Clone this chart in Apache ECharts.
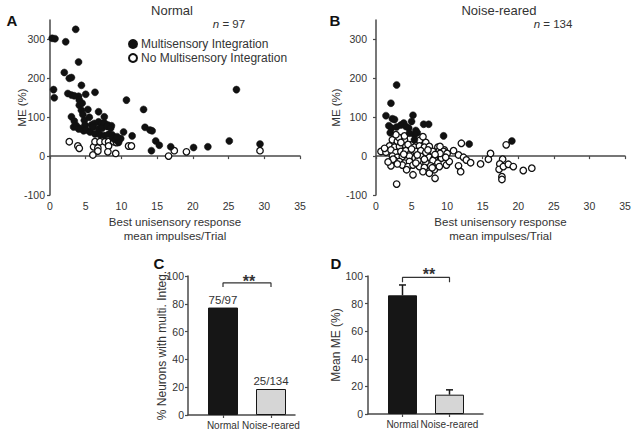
<!DOCTYPE html>
<html><head><meta charset="utf-8">
<script src="https://cdn.jsdelivr.net/npm/echarts@6/dist/echarts.min.js"></script>
<style>html,body{margin:0;padding:0;background:#fff}#c{width:635px;height:435px}</style>
</head><body><div id="c"></div>
<script>
// ---- Data ----
const normalIntegrated = [[0.3,303],[0.7,302],[2.2,294],[3.6,326],[4.0,242],[2.0,215],[2.7,200],[3.0,202],[4.4,182],[0.5,171],
[0.6,150],[6.3,164],[2.5,161],[3.0,157],[4.0,154],[5.0,159],[3.4,155],[10.7,144],[4.1,131],[4.4,118],
[4.6,107],[4.8,92],[4.9,80],[3.0,101],[3.4,90],[3.3,75],[3.7,78],[4.0,70],[4.3,71],[4.7,65],
[5.1,67],[5.6,62],[6.8,114],[7.6,101],[5.8,80],[6.2,84],[6.8,88],[7.2,84],[7.6,86],[8.1,80],
[8.6,78],[6.0,74],[6.8,70],[7.3,72],[8.0,76],[8.5,72],[6.3,57],[7.0,55],[7.6,53],[8.2,56],
[8.7,55],[8.8,46],[9.2,42],[9.9,45],[10.3,62],[11.5,52],[9.6,35],[13.1,120],[26.1,171],[13.3,74],
[14.0,67],[14.3,65],[14.8,39],[15.3,28],[14.2,14],[16.9,24],[20.1,22],[22.1,24],[25.1,39],[29.4,31],
[4.1,144],[4.5,136],[9.4,50],[5.3,120],[5.5,100]];
const normalNotIntegrated = [[2.7,37],[3.9,26],[4.1,20],[6.1,24],[6.7,21],[6.0,3],[6.3,37],[7.0,37],[7.7,37],[8.2,37],
[8.9,37],[9.3,35],[8.2,26],[8.1,11],[9.2,7],[6.7,13],[11.0,26],[11.4,26],[16.6,0],[17.4,14],[19.1,11],[29.4,14]];
const noiseIntegrated = [[2.9,183],[2.1,136],[1.4,104],[2.3,96],[2.6,94],[1.8,78],[2.2,72],[2.0,60],[2.9,75],[3.5,80],
[3.9,85],[4.2,76],[4.6,72],[5.2,105],[5.0,89],[5.6,66],[5.8,60],[5.4,55],[4.7,59],[6.7,82],
[7.4,82],[9.5,52],[13.1,31],[19.1,39],[5.4,42]];
const noiseNotIntegrated = [[2.3,42],[3.0,38],[4.0,42],[5.6,38],[6.1,40],[7.0,35],
[1.9,26],[2.6,23],[3.3,25],[4.2,26],[4.9,29],[5.4,23],[6.1,26],[6.8,23],[7.5,25],[8.7,23],
[0.7,12],[1.4,10],[2.1,16],[2.8,9],[3.5,12],[4.2,14],[4.9,8],[5.6,12],[6.3,14],[7.0,9],[8.0,12],[8.9,14],[9.6,16],
[2.3,0],[3.0,-3],[3.7,-1],[4.7,0],[5.5,-5],[6.3,-1],[7.5,-3],[8.2,-5],[9.1,0],
[2.6,-11],[3.3,-14],[4.0,-18],[4.7,-14],[5.9,-11],[7.0,-16],[8.0,-11],[8.7,-18],
[2.1,-25],[3.7,-23],[4.5,-27],[5.2,-23],[6.1,-27],[6.8,-29],[7.7,-25],[8.2,-35],[8.9,-27],
[5.2,-48],[6.6,-40],[7.5,-44],[8.3,-57],[2.9,-72],
[9.0,25],[9.5,12],[10.0,7],[10.9,14],[11.6,3],[12.3,-3],[12.7,-10],[13.3,-17],[12.0,33],[9.2,-5],
[9.9,-23],[10.3,-14],[11.6,-25],[11.9,-40],[9.0,7],[14.7,-20],[15.8,-8],[16.1,7],[17.8,-8],[17.4,-20],
[17.3,-34],[17.9,-27],[18.6,-21],[19.3,-27],[17.7,-53],[17.7,-60],[18.3,29],[20.7,-37],[21.9,-31],
[3.2,48],[4.0,52],[2.8,55],[3.5,35],[1.2,20],[4.5,30],[5.0,18],[6.6,50],[7.3,16],[8.3,4],
[9.8,-3],[2.4,-8],[3.9,5],[5.8,3],[6.8,-8],[4.3,-35],[5.6,-18],[7.9,-30],[1.7,-15],[3.0,-20]];
const barCategories = ['Normal','Noise-reared'];
const pctIntegrated = [77.3, 18.7];
const pctLabels = ['75/97','25/134'];
const meanME = [86, 14];
const meanMEErr = [7.5, 3.5];
const bracketC = [92, 95];   // tick bottom, bracket top (% axis)
const bracketD = [95.5, 99]; // tick bottom, bracket top (Mean ME axis)
const seriesNames = ['Multisensory Integration','No Multisensory Integration'];

// ---- Styles ----
const FONT = 'Liberation Sans, Arial, Helvetica, sans-serif';
const TXT = '#333';
const AX = '#4a4a4a';
const axisLine = {show:true, lineStyle:{color:AX, width:1.5}};
const tick = {show:true, length:3, inside:false, lineStyle:{color:AX, width:1.2}};
const lbl = {color:TXT, fontSize:10.5, fontFamily:FONT};

function scatterX(gi){
  return {type:'value', gridIndex:gi, min:0, max:35, interval:5, axisLine, axisTick:tick,
    axisLabel:Object.assign({margin:5}, lbl), splitLine:{show:false},
    name:'Best unisensory response\nmean impulses/Trial', nameLocation:'middle', nameGap:20, nameMoveOverlap:false,
    nameTextStyle:{color:TXT, fontSize:11.5, fontFamily:FONT, lineHeight:14}};
}
function scatterY(gi, margin, nameGap){
  return {type:'value', gridIndex:gi, min:-100, max:350, interval:100, axisLine, axisTick:tick,
    axisLabel:Object.assign({margin, showMaxLabel:false}, lbl), splitLine:{show:false},
    name:'ME (%)', nameLocation:'middle', nameGap, nameMoveOverlap:false,
    nameTextStyle:{color:TXT, fontSize:11.5, fontFamily:FONT}};
}
const filledStyle = {color:'#111111', borderColor:'#111111', borderWidth:0.5, opacity:1};
const openStyle = {color:'#ffffff', borderColor:'#111111', borderWidth:1.3, opacity:1};
const catLabel = {interval:0, margin:5, color:TXT, fontSize:10, fontFamily:FONT};

const option = {
  backgroundColor:'#fff',
  animation:false,
  textStyle:{fontFamily:FONT},
  legend:{data:seriesNames, orient:'vertical', left:128, top:38, padding:0, itemGap:2,
    itemWidth:8, itemHeight:8, selectedMode:false,
    textStyle:{color:TXT, fontSize:12, fontFamily:FONT, padding:[0,0,0,-1]}},
  grid:[
    {left:50, top:20, width:250, height:175},
    {left:376, top:20, width:249, height:175},
    {left:188, top:276, width:107, height:139},
    {left:199, top:276, width:96, height:139},
    {left:368, top:276, width:115, height:138},
    {left:379, top:276, width:94, height:138}
  ],
  xAxis:[
    scatterX(0), scatterX(1),
    {type:'value', gridIndex:2, min:0, max:1, axisLine, axisTick:{show:false}, axisLabel:{show:false}, splitLine:{show:false}},
    {type:'category', gridIndex:3, data:barCategories, axisLine:{show:false},
      axisTick:{show:true, alignWithLabel:true, length:3, lineStyle:{color:AX, width:1.2}},
      axisLabel:catLabel},
    {type:'value', gridIndex:4, min:0, max:1, axisLine, axisTick:{show:false}, axisLabel:{show:false}, splitLine:{show:false}},
    {type:'category', gridIndex:5, data:barCategories, axisLine:{show:false},
      axisTick:{show:true, alignWithLabel:true, length:3, lineStyle:{color:AX, width:1.2}},
      axisLabel:catLabel}
  ],
  yAxis:[
    scatterY(0, 5, 22), scatterY(1, 9, 34),
    {type:'value', gridIndex:2, min:0, max:100, interval:20, axisLine, axisTick:tick,
      axisLabel:Object.assign({margin:4}, lbl), splitLine:{show:false},
      name:'% Neurons with multi. Integ.', nameLocation:'middle', nameGap:20, nameMoveOverlap:false,
      nameTextStyle:{color:TXT, fontSize:12, fontFamily:FONT}},
    {type:'value', gridIndex:3, min:0, max:100, show:false},
    {type:'value', gridIndex:4, min:0, max:100, interval:20, axisLine, axisTick:tick,
      axisLabel:Object.assign({margin:5}, lbl), splitLine:{show:false},
      name:'Mean ME (%)', nameLocation:'middle', nameGap:26, nameMoveOverlap:false,
      nameTextStyle:{color:TXT, fontSize:12, fontFamily:FONT}},
    {type:'value', gridIndex:5, min:0, max:100, show:false}
  ],
  series:[
    {name:seriesNames[1], type:'scatter', xAxisIndex:0, yAxisIndex:0, data:normalNotIntegrated, symbolSize:6.5, itemStyle:openStyle},
    {name:seriesNames[0], type:'scatter', xAxisIndex:0, yAxisIndex:0, data:normalIntegrated, symbolSize:7, itemStyle:filledStyle},
    {name:seriesNames[1], type:'scatter', xAxisIndex:1, yAxisIndex:1, data:noiseNotIntegrated, symbolSize:6.5, itemStyle:openStyle},
    {name:seriesNames[0], type:'scatter', xAxisIndex:1, yAxisIndex:1, data:noiseIntegrated, symbolSize:7, itemStyle:filledStyle},
    {type:'bar', xAxisIndex:3, yAxisIndex:3, barWidth:30,
      data:pctIntegrated.map((v,i)=>({value:v, itemStyle:{color:i===0?'#161616':'#d6d6d6', borderColor:'#161616', borderWidth:1}})),
      label:{show:true, position:'top', distance:2, color:TXT, fontSize:11.5, fontFamily:FONT,
        formatter:(p)=>pctLabels[p.dataIndex]}},
    {type:'line', xAxisIndex:3, yAxisIndex:3, symbol:'none', lineStyle:{color:'#333', width:1.2},
      data:[[barCategories[0],bracketC[0]],[barCategories[0],bracketC[1]],[barCategories[1],bracketC[1]],[barCategories[1],bracketC[0]]]},
    {type:'bar', xAxisIndex:5, yAxisIndex:5, barWidth:29,
      data:meanME.map((v,i)=>({value:v, itemStyle:{color:i===0?'#161616':'#d6d6d6', borderColor:'#161616', borderWidth:1}}))},
    {type:'custom', xAxisIndex:5, yAxisIndex:5, z:5,
      data:meanME.map((v,i)=>[i, v, v+meanMEErr[i]]),
      renderItem:function(params, api){
        const p0 = api.coord([api.value(0), api.value(1)]);
        const p1 = api.coord([api.value(0), api.value(2)]);
        const hw = 3.5;
        return {type:'group', children:[
          {type:'line', shape:{x1:p0[0], y1:p0[1], x2:p1[0], y2:p1[1]}, style:{stroke:'#161616', lineWidth:1.5}},
          {type:'line', shape:{x1:p1[0]-hw, y1:p1[1], x2:p1[0]+hw, y2:p1[1]}, style:{stroke:'#161616', lineWidth:1.5}}
        ]};
      }},
    {type:'line', xAxisIndex:5, yAxisIndex:5, symbol:'none', lineStyle:{color:'#333', width:1.2},
      data:[[barCategories[0],bracketD[0]],[barCategories[0],bracketD[1]],[barCategories[1],bracketD[1]],[barCategories[1],bracketD[0]]]}
  ],
  graphic:[
    {type:'text', x:172, y:10, style:{text:'Normal', align:'center', verticalAlign:'middle', font:'13px '+FONT, fill:TXT}},
    {type:'text', x:499, y:10, style:{text:'Noise-reared', align:'center', verticalAlign:'middle', font:'13px '+FONT, fill:TXT}},
    {type:'text', x:229, y:24, style:{text:'{i|n} = 97', align:'center', verticalAlign:'middle', font:'11.5px '+FONT, fill:TXT,
      rich:{i:{fontStyle:'italic', fontSize:11.5, fontFamily:FONT, fill:TXT}}}},
    {type:'text', x:553, y:24, style:{text:'{i|n} = 134', align:'center', verticalAlign:'middle', font:'11.5px '+FONT, fill:TXT,
      rich:{i:{fontStyle:'italic', fontSize:11.5, fontFamily:FONT, fill:TXT}}}},
    {type:'text', x:12, y:20, style:{text:'A', align:'center', verticalAlign:'middle', font:'bold 15px '+FONT, fill:'#111'}},
    {type:'text', x:335, y:20, style:{text:'B', align:'center', verticalAlign:'middle', font:'bold 15px '+FONT, fill:'#111'}},
    {type:'text', x:159, y:263, style:{text:'C', align:'center', verticalAlign:'middle', font:'bold 15px '+FONT, fill:'#111'}},
    {type:'text', x:336, y:263, style:{text:'D', align:'center', verticalAlign:'middle', font:'bold 15px '+FONT, fill:'#111'}},
    {type:'text', x:249, y:281, style:{text:'**', align:'center', verticalAlign:'middle', font:'bold 16px '+FONT, fill:'#333'}},
    {type:'text', x:429, y:274, style:{text:'**', align:'center', verticalAlign:'middle', font:'bold 16px '+FONT, fill:'#333'}}
  ]
};
const chart = echarts.init(document.getElementById('c'), null, {renderer:'svg'});
chart.setOption(option);
</script></body></html>
